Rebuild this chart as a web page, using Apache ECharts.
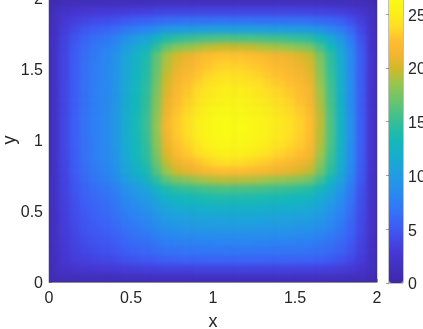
<!DOCTYPE html>
<html><head><meta charset="utf-8">
<style>
html,body{margin:0;padding:0;background:#fff;width:423px;height:329px;overflow:hidden}
#heatClip{position:absolute;left:49px;top:-2px;width:328px;height:284px;overflow:hidden;background:#3e26a8}
#heat{position:absolute;left:0;top:0;width:328px;height:284px;filter:blur(2.5px)}
#axes{position:absolute;left:0;top:0;width:423px;height:329px}
</style>
<script src="https://cdn.jsdelivr.net/npm/echarts@6/dist/echarts.min.js"></script>
</head><body>
<div id="heatClip"><div id="heat"></div></div>
<div id="axes"></div>
<script>
const xCells=[.03,.09,.16,.22,.28,.34,.41,.47,.53,.59,.66,.72,.78,.84,.91,.97,1.03,1.09,1.16,1.22,1.28,1.34,1.41,1.47,1.53,1.59,1.66,1.72,1.78,1.84,1.91,1.97];
const yCells=xCells.slice();
const paletteStops=['#3e26a8','#4230bc','#4636d2','#4248e6','#3d5ef5','#3472f5','#2b85f3','#2494e8','#1ea2dc','#17aecb','#14b8b8','#2cbd9f','#4cc285','#72c468','#98c64e','#cfb92a','#f2b530','#ffbe30','#ffdd26','#fbf01a','#f9fb15'];
const colorMin=0, colorMax=26.5;
const valueRows=[
[.9,1.2,1.3,1.4,1.4,1.4,1.4,1.5,1.5,1.5,1.6,1.6,1.6,1.6,1.6,1.6,1.6,1.6,1.6,1.6,1.6,1.6,1.6,1.6,1.6,1.6,1.6,1.5,1.5,1.4,1.3,1.0],
[1.3,2.0,2.3,2.6,2.7,2.8,2.9,3.1,3.2,3.3,3.4,3.5,3.5,3.5,3.6,3.6,3.6,3.6,3.6,3.6,3.6,3.6,3.6,3.6,3.5,3.5,3.4,3.3,3.1,2.8,2.3,1.4],
[1.4,2.5,3.1,3.4,3.7,3.9,4.1,4.5,4.7,4.9,5.2,5.4,5.5,5.6,5.6,5.7,5.7,5.7,5.7,5.7,5.7,5.6,5.6,5.6,5.5,5.5,5.3,5.0,4.6,4.0,3.0,1.7],
[1.5,2.7,3.4,3.9,4.2,4.5,4.8,5.2,5.6,5.8,6.3,6.6,6.7,6.8,6.9,7.0,7.0,7.0,7.0,7.0,6.9,6.9,6.9,6.8,6.8,6.7,6.4,6.0,5.4,4.6,3.4,1.8],
[1.6,2.9,3.6,4.2,4.6,4.9,5.2,5.8,6.2,6.5,7.0,7.5,7.7,7.8,7.9,7.9,8.0,8.0,8.0,8.0,7.9,7.9,7.8,7.8,7.7,7.6,7.2,6.7,6.0,5.0,3.6,1.8],
[1.6,3.0,3.8,4.5,4.9,5.2,5.7,6.3,6.8,7.2,7.9,8.4,8.7,8.8,8.9,9.0,9.1,9.1,9.1,9.1,9.0,9.0,8.9,8.8,8.7,8.6,8.1,7.4,6.6,5.4,3.8,1.9],
[1.6,3.1,4.0,4.7,5.2,5.6,6.1,6.8,7.4,7.9,8.7,9.3,9.7,9.8,10.0,10.1,10.2,10.2,10.2,10.2,10.1,10.0,10.0,9.9,9.7,9.6,9.0,8.2,7.1,5.7,4.0,1.9],
[1.6,3.2,4.2,4.9,5.5,5.9,6.5,7.3,7.9,8.5,9.4,10.2,10.6,10.8,11.0,11.1,11.2,11.3,11.2,11.2,11.1,11.0,10.9,10.8,10.7,10.5,9.8,8.8,7.6,6.1,4.1,2.0],
[1.7,3.3,4.3,5.2,5.7,6.2,6.8,7.8,8.5,9.2,10.3,11.2,11.7,11.9,12.2,12.4,12.5,12.5,12.5,12.5,12.4,12.2,12.1,12.0,11.8,11.5,10.7,9.6,8.2,6.4,4.3,2.0],
[1.7,3.4,4.5,5.4,6.0,6.5,7.2,8.3,9.2,9.9,11.2,12.3,12.9,13.2,13.5,13.7,13.9,13.9,13.9,13.8,13.7,13.6,13.4,13.2,13.0,12.7,11.7,10.4,8.8,6.8,4.4,2.0],
[1.7,3.5,4.7,5.6,6.3,6.9,7.7,8.9,9.9,10.8,12.4,13.7,14.5,14.9,15.2,15.5,15.7,15.8,15.7,15.6,15.5,15.3,15.1,14.9,14.6,14.2,13.0,11.4,9.5,7.2,4.6,2.1],
[1.8,3.6,4.9,6.0,6.8,7.5,8.5,10.0,11.2,12.3,14.5,16.4,17.4,17.9,18.5,18.9,19.2,19.3,19.2,19.1,18.9,18.6,18.3,18.0,17.6,17.0,15.3,13.1,10.6,7.8,4.9,2.1],
[1.8,3.7,5.1,6.3,7.2,7.9,9.0,10.8,12.2,13.5,16.1,18.6,19.9,20.7,21.4,22.0,22.4,22.5,22.4,22.2,21.9,21.6,21.2,20.7,20.2,19.5,17.2,14.5,11.5,8.3,5.0,2.2],
[1.8,3.7,5.2,6.4,7.4,8.1,9.3,11.1,12.7,14.1,16.9,19.6,21.1,21.9,22.7,23.4,23.8,24.0,23.9,23.6,23.3,22.9,22.5,22.0,21.4,20.6,18.1,15.0,11.9,8.5,5.1,2.2],
[1.8,3.8,5.2,6.5,7.5,8.3,9.4,11.4,13.0,14.5,17.5,20.4,22.0,22.9,23.8,24.5,25.0,25.2,25.1,24.8,24.4,24.0,23.5,23.0,22.4,21.5,18.8,15.5,12.2,8.6,5.2,2.2],
[1.8,3.8,5.3,6.5,7.5,8.3,9.5,11.5,13.2,14.7,18.0,20.9,22.6,23.5,24.5,25.3,25.8,26.0,25.8,25.6,25.2,24.7,24.2,23.6,23.0,22.0,19.2,15.8,12.4,8.7,5.2,2.2],
[1.8,3.8,5.3,6.6,7.6,8.4,9.6,11.6,13.3,14.9,18.1,21.2,22.9,23.9,24.9,25.6,26.2,26.4,26.3,26.0,25.6,25.1,24.6,24.0,23.3,22.3,19.4,16.0,12.5,8.8,5.2,2.2],
[1.8,3.8,5.3,6.6,7.6,8.4,9.6,11.6,13.4,15.0,18.3,21.5,23.0,24.0,25.0,25.8,26.3,26.5,26.4,26.1,25.7,25.2,24.7,24.1,23.4,22.4,19.5,16.0,12.5,8.8,5.2,2.2],
[1.8,3.8,5.3,6.6,7.6,8.4,9.6,11.6,13.4,15.0,18.2,21.4,23.0,24.0,24.9,25.7,26.2,26.4,26.3,26.0,25.6,25.1,24.6,24.0,23.4,22.4,19.5,16.0,12.5,8.8,5.2,2.2],
[1.8,3.8,5.3,6.6,7.6,8.4,9.6,11.6,13.2,14.8,18.0,21.0,22.7,23.6,24.6,25.4,25.9,26.1,26.0,25.7,25.3,24.8,24.3,23.7,23.1,22.1,19.3,15.8,12.4,8.7,5.2,2.2],
[1.8,3.8,5.3,6.5,7.5,8.3,9.5,11.5,13.1,14.7,17.8,20.8,22.3,23.3,24.2,24.9,25.4,25.6,25.5,25.3,24.9,24.4,23.9,23.4,22.7,21.8,19.0,15.7,12.3,8.7,5.2,2.2],
[1.8,3.8,5.2,6.5,7.5,8.3,9.4,11.4,13.0,14.5,17.5,20.4,22.0,22.9,23.8,24.5,25.0,25.2,25.1,24.8,24.4,24.0,23.5,23.0,22.4,21.5,18.8,15.5,12.2,8.6,5.2,2.2],
[1.8,3.8,5.2,6.5,7.4,8.2,9.3,11.2,12.8,14.3,17.2,20.0,21.5,22.4,23.3,23.9,24.4,24.6,24.4,24.2,23.9,23.4,23.0,22.5,21.9,21.0,18.4,15.3,12.0,8.5,5.1,2.2],
[1.8,3.7,5.2,6.4,7.4,8.1,9.3,11.1,12.7,14.1,16.9,19.6,21.1,21.9,22.7,23.4,23.8,24.0,23.9,23.6,23.3,22.9,22.5,22.0,21.4,20.6,18.1,15.0,11.9,8.5,5.1,2.2],
[1.8,3.7,5.2,6.4,7.3,8.1,9.2,11.0,12.5,13.9,16.7,19.2,20.6,21.4,22.2,22.8,23.3,23.4,23.3,23.1,22.8,22.4,22.0,21.5,21.0,20.2,17.8,14.8,11.8,8.4,5.1,2.2],
[1.8,3.7,5.1,6.3,7.2,8.0,9.1,10.9,12.3,13.7,16.4,18.9,20.1,20.9,21.6,22.2,22.6,22.8,22.7,22.5,22.2,21.8,21.4,21.0,20.4,19.7,17.4,14.6,11.6,8.3,5.1,2.2],
[1.8,3.6,5.0,6.1,6.9,7.6,8.5,10.1,11.4,12.5,14.7,16.7,17.8,18.3,18.9,19.4,19.7,19.8,19.7,19.6,19.3,19.0,18.8,18.4,18.0,17.4,15.6,13.3,10.8,7.9,4.9,2.1],
[1.7,3.5,4.7,5.6,6.4,6.9,7.8,9.0,10.0,10.9,12.5,13.9,14.6,15.0,15.4,15.7,15.9,16.0,15.9,15.8,15.7,15.5,15.3,15.1,14.8,14.4,13.1,11.5,9.5,7.2,4.6,2.1],
[1.6,3.1,4.1,4.8,5.3,5.7,6.2,7.0,7.6,8.0,8.9,9.6,9.9,10.1,10.3,10.4,10.5,10.5,10.5,10.4,10.4,10.3,10.2,10.1,10.0,9.8,9.2,8.3,7.3,5.8,4.0,2.0],
[1.5,2.7,3.3,3.8,4.1,4.3,4.6,5.0,5.3,5.5,5.9,6.2,6.3,6.4,6.5,6.5,6.6,6.6,6.6,6.6,6.5,6.5,6.5,6.4,6.4,6.3,6.0,5.7,5.2,4.4,3.3,1.8],
[1.3,2.0,2.4,2.7,2.8,2.9,3.0,3.2,3.3,3.4,3.6,3.7,3.7,3.7,3.8,3.8,3.8,3.8,3.8,3.8,3.8,3.8,3.8,3.8,3.7,3.7,3.6,3.5,3.3,2.9,2.4,1.5],
[.8,1.1,1.2,1.3,1.3,1.3,1.4,1.4,1.4,1.4,1.5,1.5,1.5,1.5,1.5,1.5,1.5,1.5,1.5,1.5,1.5,1.5,1.5,1.5,1.5,1.5,1.5,1.4,1.4,1.3,1.2,.9]
];
const heatData=[];
valueRows.forEach((row,j)=>row.forEach((v,i)=>heatData.push([i,j,v])));
const textColor='#262626', font='"Liberation Sans", Arial, sans-serif';

const heat=echarts.init(document.getElementById('heat'),null,{renderer:'canvas'});
heat.setOption({
  animation:false,
  grid:{left:0,right:0,top:0,bottom:0,outerBoundsMode:'none'},
  xAxis:{type:'category',data:xCells.map(String),show:false},
  yAxis:{type:'category',data:yCells.map(String),show:false},
  visualMap:{show:false,min:colorMin,max:colorMax,inRange:{color:paletteStops}},
  series:[{type:'heatmap',data:heatData,progressive:0,emphasis:{disabled:true}}]
});

const axes=echarts.init(document.getElementById('axes'),null,{renderer:'canvas'});
const axisText={color:textColor,fontSize:16,fontFamily:font};
axes.setOption({
  animation:false,
  backgroundColor:'transparent',
  grid:[
    {left:49,top:-2,width:328,height:284,show:true,borderColor:'#404060',borderWidth:0.5,backgroundColor:'transparent',outerBoundsMode:'none'},
    {left:389,top:-2,width:14,height:285,show:true,borderColor:'#808080',borderWidth:1,backgroundColor:'transparent',outerBoundsMode:'none'}
  ],
  xAxis:[
    {gridIndex:0,type:'value',min:0,max:2,interval:0.5,name:'x',nameLocation:'middle',nameGap:31,nameMoveOverlap:false,
     nameTextStyle:{color:textColor,fontSize:18,fontFamily:font},
     axisLine:{lineStyle:{color:'#404060',width:0.5}},axisTick:{inside:true,length:3,lineStyle:{color:'#404060',width:0.5}},
     axisLabel:{...axisText,margin:9,hideOverlap:false},splitLine:{show:false}},
    {gridIndex:1,type:'value',min:0,max:1,show:false}
  ],
  yAxis:[
    {gridIndex:0,type:'value',min:0,max:2,interval:0.5,name:'y',nameLocation:'middle',nameGap:39,nameMoveOverlap:false,
     nameTextStyle:{color:textColor,fontSize:18,fontFamily:font,verticalAlign:'middle'},
     axisLine:{lineStyle:{color:'#404060',width:0.5}},axisTick:{inside:true,length:3,lineStyle:{color:'#404060',width:0.5}},
     axisLabel:{...axisText,margin:6,hideOverlap:false,verticalAlign:'top',lineHeight:4},splitLine:{show:false}},
    {gridIndex:1,type:'value',min:colorMin,max:colorMax,interval:5,position:'right',
     axisLine:{show:false},axisTick:{inside:true,length:3,lineStyle:{color:'#404040',width:0.5}},
     axisLabel:{...axisText,margin:5,showMaxLabel:false,verticalAlign:'top',lineHeight:4},splitLine:{show:false}}
  ],
  visualMap:{show:true,type:'continuous',seriesIndex:[],min:colorMin,max:colorMax,left:389,top:-2,padding:0,
    itemWidth:14,itemHeight:285,calculable:false,text:null,showLabel:false,hoverLink:false,inRange:{color:paletteStops}},
  series:[]
});
</script>
</body></html>
